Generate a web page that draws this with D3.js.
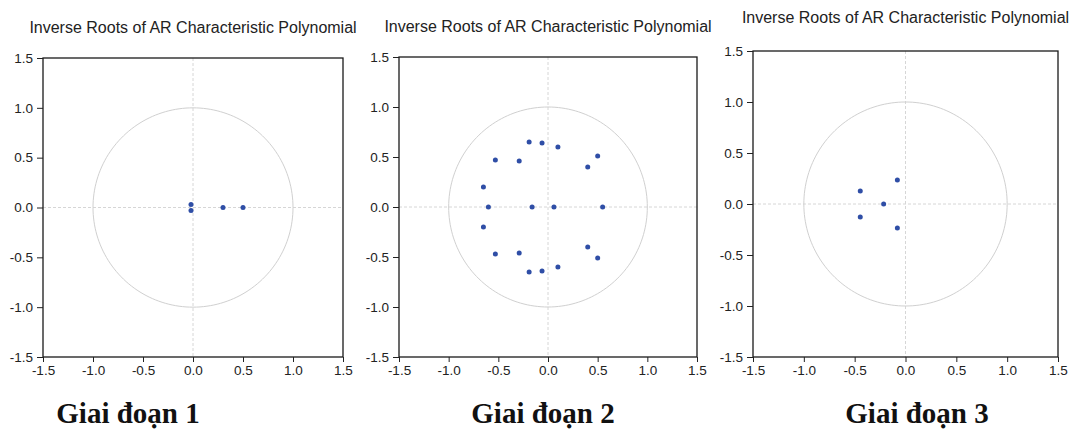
<!DOCTYPE html>
<html>
<head>
<meta charset="utf-8">
<script src="https://cdn.jsdelivr.net/npm/d3@7"></script>
<style>
  body { margin: 0; background: #fff; }
  svg { display: block; }
  .tick text { font-family: "Liberation Sans", Arial, sans-serif; font-size: 13.5px; fill: #222; }
  .tick line { stroke: #222; }
</style>
</head>
<body>
<div id="chart"></div>
<script>
// 各段階のラベル
var stageLabels = ["Giai đoạn 1", "Giai đoạn 2", "Giai đoạn 3"];
var chartTitle = "Inverse Roots of AR Characteristic Polynomial";
var tickValues = [-1.5, -1.0, -0.5, 0.0, 0.5, 1.0, 1.5];

// 逆根 [実部, 虚部]
var rootsStage1 = [[-0.02, 0.03], [-0.02, -0.03], [0.30, 0.0], [0.50, 0.0]];
var rootsStage2 = [
  [-0.19, 0.65], [-0.06, 0.64], [0.10, 0.60], [-0.53, 0.47], [-0.29, 0.46],
  [0.50, 0.51], [0.40, 0.40], [-0.65, 0.20],
  [-0.60, 0.0], [-0.16, 0.0], [0.06, 0.0], [0.55, 0.0],
  [-0.65, -0.20], [-0.53, -0.47], [-0.29, -0.46], [-0.19, -0.65], [-0.06, -0.64],
  [0.10, -0.60], [0.40, -0.40], [0.50, -0.51]
];
var rootsStage3 = [[-0.08, 0.235], [-0.445, 0.128], [-0.215, 0.0], [-0.445, -0.128], [-0.08, -0.235]];

var allRoots = [rootsStage1, rootsStage2, rootsStage3];

// パネルの配置
var layout = [
  {left: 43,  right: 343,  top: 58, bottom: 357, titleY: 33, labelX: 128, labelY: 423},
  {left: 399, right: 697,  top: 57, bottom: 357, titleY: 32, labelX: 543, labelY: 423},
  {left: 753, right: 1058, top: 51, bottom: 357, titleY: 23, labelX: 917, labelY: 423}
];

var svg = d3.select("#chart").append("svg")
    .attr("width", 1073)
    .attr("height", 430);

allRoots.forEach(function(roots, i) {
  var box = layout[i];

  var x = d3.scaleLinear().domain([-1.5, 1.5]).range([box.left, box.right]);
  var y = d3.scaleLinear().domain([-1.5, 1.5]).range([box.bottom, box.top]);

  var g = svg.append("g").attr("class", "panel");

  // タイトル
  g.append("text")
      .attr("x", (box.left + box.right) / 2)
      .attr("y", box.titleY)
      .attr("text-anchor", "middle")
      .style("font-family", "'Liberation Sans', Arial, sans-serif")
      .style("font-size", "16px")
      .style("fill", "#222")
      .text(chartTitle);

  // ゼロ線
  g.append("line")
      .attr("x1", x(0)).attr("x2", x(0))
      .attr("y1", y(1.5)).attr("y2", y(-1.5))
      .attr("stroke", "#d6d6d6").attr("stroke-dasharray", "3,2");
  g.append("line")
      .attr("x1", x(-1.5)).attr("x2", x(1.5))
      .attr("y1", y(0)).attr("y2", y(0))
      .attr("stroke", "#d6d6d6").attr("stroke-dasharray", "3,2");

  // 単位円
  var circle = d3.range(0, 361, 2).map(function(a) {
    var r = a * Math.PI / 180;
    return [Math.cos(r), Math.sin(r)];
  });
  g.append("path")
      .datum(circle)
      .attr("fill", "none")
      .attr("stroke", "#d0d0d0")
      .attr("d", d3.line().x(function(d) { return x(d[0]); }).y(function(d) { return y(d[1]); }));

  // 枠
  g.append("rect")
      .attr("x", box.left).attr("y", box.top)
      .attr("width", box.right - box.left).attr("height", box.bottom - box.top)
      .attr("fill", "none").attr("stroke", "#1a1a1a").attr("stroke-width", 1.3);

  // 軸
  var fmt = function(d) { return d.toFixed(1); };
  g.append("g")
      .attr("transform", "translate(0," + box.bottom + ")")
      .call(d3.axisBottom(x).tickValues(tickValues).tickFormat(fmt).tickSize(5).tickPadding(3))
      .call(function(a) { a.select(".domain").remove(); });
  g.append("g")
      .attr("transform", "translate(" + box.left + ",0)")
      .call(d3.axisLeft(y).tickValues(tickValues).tickFormat(fmt).tickSize(6).tickPadding(4))
      .call(function(a) { a.select(".domain").remove(); });

  // 根のプロット
  g.selectAll(".root")
      .data(roots)
      .enter().append("circle")
      .attr("class", "root")
      .attr("cx", function(d) { return x(d[0]); })
      .attr("cy", function(d) { return y(d[1]); })
      .attr("r", 2.5)
      .attr("fill", "#2f4ea6");

  // 段階ラベル
  svg.append("text")
      .attr("x", box.labelX)
      .attr("y", box.labelY)
      .attr("text-anchor", "middle")
      .style("font-family", "'Liberation Serif', 'Times New Roman', serif")
      .style("font-weight", "bold")
      .style("font-size", "29px")
      .style("fill", "#111")
      .text(stageLabels[i]);
});
</script>
</body>
</html>
